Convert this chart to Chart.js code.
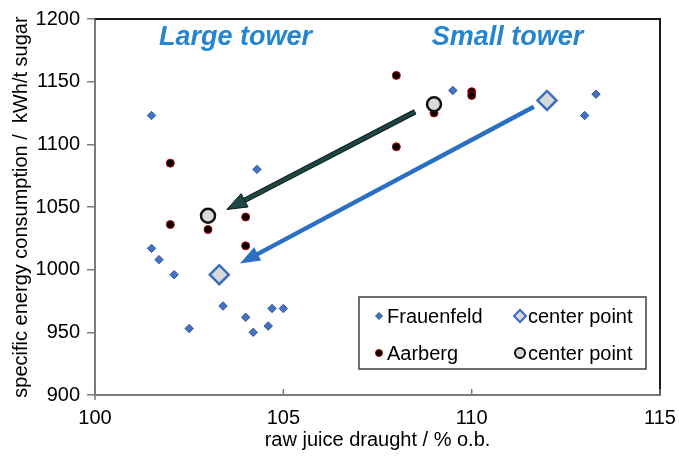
<!DOCTYPE html>
<html>
<head>
<meta charset="utf-8">
<script src="https://cdn.jsdelivr.net/npm/chart.js@4.4.1/dist/chart.umd.min.js"></script>
<style>
  body { margin: 0; background: #fff; }
  #wrap { width: 679px; height: 461px; position: relative; }
</style>
</head>
<body>
<div id="wrap"><canvas id="towerChart"></canvas></div>
<script>
const frauenfeldX = [101.5, 101.5, 101.7, 102.1, 102.5, 103.4, 104.0, 104.2, 104.3, 104.6, 104.7, 105.0, 109.5, 113.0, 113.3];
const frauenfeldY = [1123, 1017, 1008, 996, 953, 971, 962, 950, 1080, 955, 969, 969, 1143, 1123, 1140];
const aarbergX = [102.0, 102.0, 103.0, 104.0, 104.0, 108.0, 108.0, 109.0, 110.0, 110.0];
const aarbergY = [1085, 1036, 1032, 1042, 1019, 1155, 1098, 1125, 1142, 1139];

// center points (large tower, small tower)
const frauenfeldCenterX = [103.3, 112.0];
const frauenfeldCenterY = [996, 1135];
const aarbergCenterX = [103.0, 109.0];
const aarbergCenterY = [1043, 1132];

// arrows: [tail, tip]
const aarbergArrowX = [108.5, 103.5];
const aarbergArrowY = [1126, 1048];
const frauenfeldArrowX = [111.65, 103.85];
const frauenfeldArrowY = [1130, 1005];

const xTicks = [100, 105, 110, 115];
const yTicks = [900, 950, 1000, 1050, 1100, 1150, 1200];
const towerLabels = ["Large tower", "Small tower"];
const towerLabelX = [103.73, 110.95];
const towerLabelY = [1179, 1179];

const toPoints = (xs, ys) => xs.map((x, i) => ({ x: x, y: ys[i] }));

Chart.defaults.font.family = "'Liberation Sans', Arial, sans-serif";
Chart.defaults.color = "#000";

function drawArrow(ctx, chart, xs, ys, color, edge) {
  const sx = chart.scales.x, sy = chart.scales.y;
  const x0 = sx.getPixelForValue(xs[0]), y0 = sy.getPixelForValue(ys[0]);
  const x1 = sx.getPixelForValue(xs[1]), y1 = sy.getPixelForValue(ys[1]);
  const a = Math.atan2(y1 - y0, x1 - x0);
  const headLen = 20, headW = 7.5;
  const bx = x1 - Math.cos(a) * headLen, by = y1 - Math.sin(a) * headLen;
  ctx.save();
  ctx.lineCap = "butt";
  if (edge) {
    ctx.strokeStyle = edge;
    ctx.lineWidth = 5.5;
    ctx.beginPath(); ctx.moveTo(x0, y0); ctx.lineTo(bx + Math.cos(a) * 4, by + Math.sin(a) * 4); ctx.stroke();
  }
  ctx.strokeStyle = color;
  ctx.lineWidth = edge ? 3.5 : 4.5;
  ctx.beginPath(); ctx.moveTo(x0, y0); ctx.lineTo(bx + Math.cos(a) * 4, by + Math.sin(a) * 4); ctx.stroke();
  ctx.beginPath();
  ctx.moveTo(x1, y1);
  ctx.lineTo(bx + Math.sin(a) * headW, by - Math.cos(a) * headW);
  ctx.lineTo(bx - Math.sin(a) * headW, by + Math.cos(a) * headW);
  ctx.closePath();
  ctx.fillStyle = color;
  ctx.fill();
  if (edge) { ctx.strokeStyle = edge; ctx.lineWidth = 1; ctx.stroke(); }
  ctx.restore();
}

const extrasPlugin = {
  id: "extras",
  beforeDatasetsDraw(chart) {
    const ctx = chart.ctx;
    drawArrow(ctx, chart, aarbergArrowX, aarbergArrowY, "#1d4645", "#0b1a1a");
    drawArrow(ctx, chart, frauenfeldArrowX, frauenfeldArrowY, "#2b6fc3", null);
  },
  afterDraw(chart) {
    const ctx = chart.ctx;
    const area = chart.chartArea;
    const sx = chart.scales.x, sy = chart.scales.y;
    ctx.save();
    // top and right frame
    ctx.strokeStyle = "#1a1a1a";
    ctx.lineWidth = 2;
    ctx.beginPath();
    ctx.moveTo(area.left, area.top);
    ctx.lineTo(area.right, area.top);
    ctx.lineTo(area.right, area.bottom);
    ctx.stroke();
    // inward x ticks
    ctx.strokeStyle = "#7a7a7a";
    ctx.lineWidth = 1.5;
    xTicks.forEach((v) => {
      const px = sx.getPixelForValue(v);
      ctx.beginPath(); ctx.moveTo(px, area.bottom); ctx.lineTo(px, area.bottom - 6); ctx.stroke();
    });
    ctx.beginPath(); ctx.moveTo(area.left, area.bottom); ctx.lineTo(area.left, area.bottom + 5); ctx.stroke();

    // tower labels
    ctx.fillStyle = "#2586cf";
    ctx.font = "italic bold 27px 'Liberation Sans', Arial, sans-serif";
    ctx.textAlign = "center";
    ctx.textBaseline = "alphabetic";
    towerLabels.forEach((t, i) => {
      ctx.fillText(t, sx.getPixelForValue(towerLabelX[i]), sy.getPixelForValue(towerLabelY[i]));
    });

    // legend box
    const lx = area.right - 301, ly = area.bottom - 98, lw = 287, lh = 72;
    ctx.fillStyle = "#fff";
    ctx.fillRect(lx, ly, lw, lh);
    ctx.strokeStyle = "#404040";
    ctx.lineWidth = 1.5;
    ctx.strokeRect(lx, ly, lw, lh);
    const items = [
      { ds: 2, col: 0, row: 0, r: 3.5 },
      { ds: 0, col: 1, row: 0, r: 6 },
      { ds: 3, col: 0, row: 1, r: 3.5 },
      { ds: 1, col: 1, row: 1, r: 5 },
    ];
    ctx.font = "20px 'Liberation Sans', Arial, sans-serif";
    ctx.textAlign = "left";
    ctx.textBaseline = "middle";
    items.forEach((it) => {
      const ds = chart.data.datasets[it.ds];
      const mx = lx + (it.col === 0 ? 20 : 161);
      const my = ly + (it.row === 0 ? 19 : 56);
      ctx.fillStyle = ds.backgroundColor;
      ctx.strokeStyle = ds.borderColor;
      ctx.lineWidth = it.ds < 2 ? 2 : 1;
      Chart.helpers.drawPoint(ctx, { pointStyle: ds.pointStyle, radius: it.r, borderWidth: ctx.lineWidth, rotation: 0 }, mx, my);
      ctx.fillStyle = "#000";
      ctx.fillText(ds.label, mx + 8, my + 1);
    });
    ctx.restore();
  },
};

const ctx = document.getElementById("towerChart").getContext("2d");
const towerChart = new Chart(ctx, {
  type: "scatter",
  data: {
    datasets: [
      {
        label: "center point",
        data: toPoints(frauenfeldCenterX, frauenfeldCenterY),
        pointStyle: "rectRot",
        pointRadius: 9.5,
        backgroundColor: "#d9d9d9",
        borderColor: "#3d6cbf",
        borderWidth: 2.5,
        order: 0,
      },
      {
        label: "center point",
        data: toPoints(aarbergCenterX, aarbergCenterY),
        pointStyle: "circle",
        pointRadius: 7,
        backgroundColor: "#d9d9d9",
        borderColor: "#111",
        borderWidth: 2.5,
        order: 0,
      },
      {
        label: "Frauenfeld",
        data: toPoints(frauenfeldX, frauenfeldY),
        pointStyle: "rectRot",
        pointRadius: 4.2,
        backgroundColor: "#4472c4",
        borderColor: "#2f5597",
        borderWidth: 1,
        order: 1,
      },
      {
        label: "Aarberg",
        data: toPoints(aarbergX, aarbergY),
        pointStyle: "circle",
        pointRadius: 4,
        backgroundColor: "#000",
        borderColor: "#c00000",
        borderWidth: 1,
        order: 1,
      },
    ],
  },
  options: {
    responsive: true,
    maintainAspectRatio: false,
    animation: false,
    layout: { padding: { top: 18, right: 19, left: 0, bottom: 0 } },
    plugins: {
      legend: { display: false },
      tooltip: { enabled: false },
    },
    scales: {
      x: {
        type: "linear",
        min: 100,
        max: 115,
        afterFit: (scale) => { scale.height = 66; },
        afterBuildTicks: (scale) => { scale.ticks = xTicks.map((v) => ({ value: v })); },
        // invisible tick marks only push the labels down; inward ticks come from the plugin
        grid: { drawOnChartArea: false, drawTicks: true, tickLength: 11, color: "rgba(0,0,0,0)" },
        border: { display: true, color: "#7a7a7a", width: 2 },
        ticks: { padding: 0, font: { size: 20 }, color: "#000", callback: (v) => String(v) },
        title: {
          display: true,
          text: "raw juice draught / % o.b.",
          font: { size: 20 },
          padding: { top: 0, bottom: 9 },
        },
      },
      y: {
        type: "linear",
        min: 900,
        max: 1200,
        afterFit: (scale) => { scale.width = 95; },
        afterBuildTicks: (scale) => { scale.ticks = yTicks.map((v) => ({ value: v })); },
        grid: { drawOnChartArea: false, drawTicks: true, tickLength: 8, color: "#7a7a7a", lineWidth: 1.5 },
        border: { display: true, color: "#7a7a7a", width: 2 },
        ticks: { padding: 7, font: { size: 20 }, color: "#000", callback: (v) => String(v) },
        title: {
          display: true,
          text: "specific energy consumption /  kWh/t sugar",
          font: { size: 20 },
          padding: { top: 9, bottom: 0 },
        },
      },
    },
  },
  plugins: [extrasPlugin],
});
</script>
</body>
</html>
